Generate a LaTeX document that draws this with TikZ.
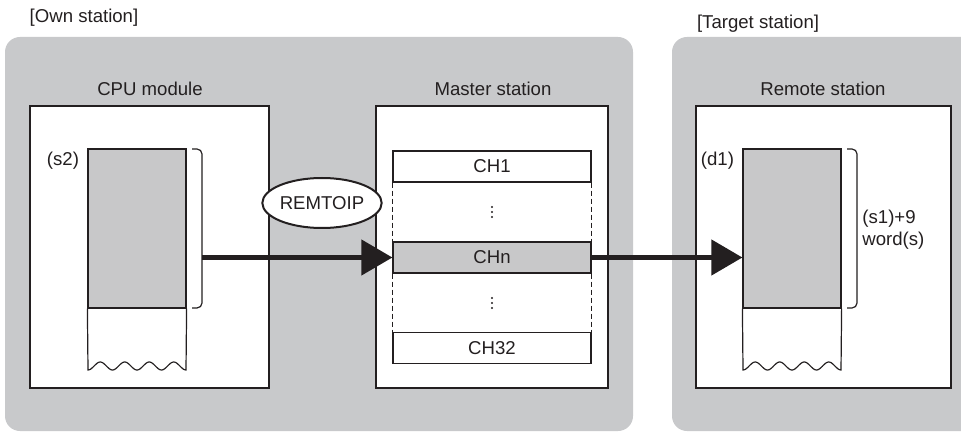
\documentclass[tikz,border=0pt]{standalone}
\usepackage{fontspec}
\setmainfont{Liberation Sans}
\usetikzlibrary{arrows.meta,shapes.geometric}
\definecolor{panelgray}{RGB}{200,201,203}
\definecolor{memgray}{RGB}{200,200,201}
\definecolor{ink}{RGB}{35,31,32}
\begin{document}
\begin{tikzpicture}[x=0.5pt,y=-0.5pt,font=\fontsize{9.3}{11}\selectfont,text=ink,
  panel/.style={fill=panelgray,rounded corners=7.5pt},
  unitbox/.style={draw=ink,fill=white,line width=0.6pt,inner sep=0pt},
  chbox/.style={draw=ink,line width=0.6pt,minimum width=99pt,minimum height=15.5pt,inner sep=0pt},
  membox/.style={draw=ink,fill=memgray,line width=0.6pt,minimum width=49pt,minimum height=79.5pt,inner sep=0pt},
  bracket/.style={draw=ink,line width=0.6pt,rounded corners=2.5pt},
  flow/.style={draw=ink,line width=2.2pt,-{Triangle[length=15.5pt,width=17.5pt]}}]
  \useasboundingbox (0,0) rectangle (961,432);
  % hladiny stanic
  \begin{scope}
    \clip (0,0) rectangle (961,432);
    \fill[panel] (5,37) rectangle (633,431);
    \fill[panel] (672,37) rectangle (1000,431);
  \end{scope}
  \node (own) at (84,18) {[Own station]};
  \node (target) at (758,24) {[Target station]};
  % moduly
  \node[unitbox,minimum width=119.5pt,minimum height=141pt] (cpu) at (149.5,247) {};
  \node[unitbox,minimum width=116pt,minimum height=141pt] (master) at (492,247) {};
  \node[unitbox,minimum width=127.5pt,minimum height=141pt] (remote) at (823.5,247) {};
  \node at (150,89) {CPU module};
  \node at (493,89) {Master station};
  \node at (823,89) {Remote station};
  % pamet CPU (s2)
  \node[membox] (memsrc) at (137,228.5) {};
  \draw[draw=ink,line width=0.6pt] (memsrc.south west) -- (88,370)
    -- plot[domain=0:98,samples=80] ({88+\x},{366+4*cos(\x/24.5*360)}) -- (memsrc.south east);
  \node[anchor=north east,inner sep=0pt] at ([xshift=-4pt,yshift=-1.5pt]memsrc.north west) {(s2)};
  \draw[bracket] (192,149) -- (202,149) -- (202,308) -- (192,308);
  \coordinate (src) at (202,257.5);
  % kanaly master
  \node[chbox] (ch1) at (492,166.5) {CH1};
  \node[chbox,fill=memgray] (chn) at (492,257.5) {CHn};
  \node[chbox] (ch32) at (492,348) {CH32};
  \draw[ink,line width=0.7pt,dash pattern=on 2.5pt off 1.5pt] (ch1.south west) -- (chn.north west)
    (ch1.south east) -- (chn.north east) (chn.south west) -- (ch32.north west) (chn.south east) -- (ch32.north east);
  % svisle tecky mezi kanaly
  \foreach \yd in {212,303}
    \foreach \dy in {-5,0,5}
      \fill[ink] (492,\yd+\dy) circle (0.55pt);
  \node[ellipse,draw=ink,fill=white,line width=1pt,minimum width=49pt,minimum height=25pt,inner sep=0pt] (remtoip) at (322,203) {REMTOIP};
  % pamet remote (d1)
  \node[membox] (memdst) at (792,228.5) {};
  \draw[draw=ink,line width=0.6pt] (memdst.south west) -- (743,370)
    -- plot[domain=0:98,samples=80] ({743+\x},{366+4*cos(\x/24.5*360)}) -- (memdst.south east);
  \node[anchor=north east,inner sep=0pt] at ([xshift=-4pt,yshift=-1.5pt]memdst.north west) {(d1)};
  \draw[bracket] (847,149) -- (857,149) -- (857,308) -- (847,308);
  \node[anchor=west,align=left,inner sep=0pt] (size) at (862,230) {(s1)+9\\word(s)};
  % toky dat
  \draw[flow] (src) -- (chn.west);
  \draw[flow] (chn.east) -- (chn.east -| memdst.west);
\end{tikzpicture}
\end{document}
